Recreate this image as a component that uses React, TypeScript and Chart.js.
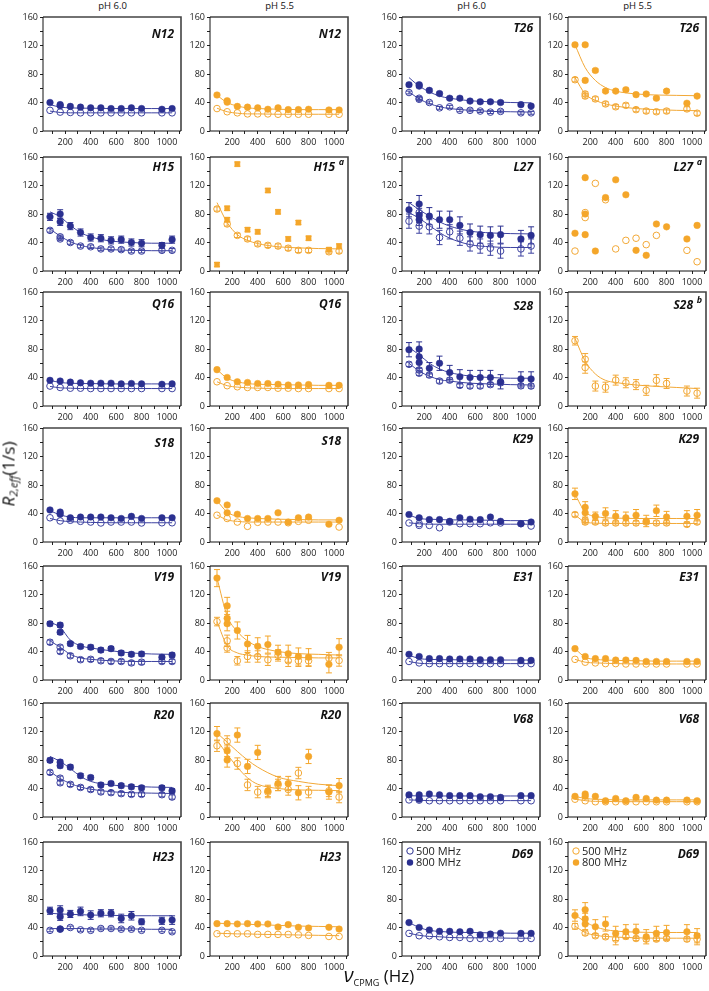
import React, { useEffect, useRef } from 'react';
import { Chart, registerables } from 'chart.js';

Chart.register(...registerables);

// ---------- shared x positions (Hz) ----------
const X11 = [80, 160, 240, 320, 400, 480, 560, 640, 720, 800, 1040];
const X12 = [80, 160, 240, 320, 400, 480, 560, 640, 720, 800, 960, 1040];
const X13 = [80, 160, 160, 240, 320, 400, 480, 560, 640, 720, 800, 960, 1040];
const X14 = [80, 160, 160, 160, 240, 320, 400, 480, 560, 640, 720, 800, 960, 1040];
const X12L = [80, 160, 160, 240, 320, 400, 480, 560, 640, 720, 960, 1040];
const FX = [80, 160, 240, 320, 400, 560, 720, 880, 1040];

const X_TICK_LABELS = [200, 400, 600, 800, 1000];
const Y_TICK_LABELS = [0, 40, 80, 120, 160];
const COLUMN_HEADERS = ['pH 6.0', 'pH 5.5', 'pH 6.0', 'pH 5.5'];
const LEGEND_LABELS = ['500 MHz', '800 MHz'];

// ---------- N12 ----------
const n12A_800 = [40, 37, 35.5, 34.5, 33.5, 32.5, 32.5, 31.5, 31.5, 32.5, 31.5, 30.5, 31.5];
const n12A_500 = [29, 26.5, 26, 25.5, 25.5, 25.5, 25.5, 25.5, 25.5, 25.5, 25.5, 25.5];
const n12A_f800 = [37, 33.5, 32.5, 32, 32, 31.5, 31.5, 31.5, 31.5];
const n12A_f500 = [28, 26, 25.5, 25.5, 25.5, 25.5, 25.5, 25.5, 25.5];
const n12B_800 = [50.5, 42.5, 40.5, 34.5, 33.5, 32.5, 30.5, 32.5, 30, 30, 30.5, 29.5, 29.5];
const n12B_500 = [31.5, 27, 25.5, 24, 24, 24, 23.5, 23.5, 23.5, 23.5, 23.5, 23.5];
const n12B_f800 = [50, 40, 35, 32.5, 31.5, 30.5, 30, 30, 30];
const n12B_f500 = [32, 27, 25, 24, 24, 23.5, 23.5, 23.5, 23.5];

// ---------- H15 ----------
const h15A_800 = [76, 80, 69, 63, 54, 47, 46, 43, 44, 40, 39, 36, 44];
const h15A_800e = [5, 6, 5, 5, 5, 5, 5, 5, 5, 5, 5, 4, 5];
const h15A_500 = [57, 48, 45, 40, 35, 34, 31, 31, 30, 28, 28, 29, 29];
const h15A_f800 = [83, 76, 64, 54, 48, 42, 40, 39, 39];
const h15A_f500 = [59, 49, 41, 36, 33, 30, 29, 28.5, 28.5];
const h15B_800 = [9, 88, 72, 150, 58, 55, 113, 83, 45, 68, 46, 30, 35];
const h15B_500 = [87, 66, 50, 45, 38, 36, 35, 32, 29, 29, 27, 28];
const h15B_f500 = [96, 68, 51, 43, 38.5, 34, 32.5, 31.5, 31];

// ---------- Q16 ----------
const q16A_800 = [36, 35, 33.5, 32.5, 32, 32, 32, 31, 31.5, 31, 30.5, 31];
const q16A_500 = [28, 26, 25, 25, 24.5, 24.5, 24.5, 24.5, 24.5, 24.5, 24.5, 24.5];
const q16A_f800 = [36, 33, 32, 31.5, 31.5, 31, 31, 31, 31];
const q16A_f500 = [27.5, 25.5, 25, 24.5, 24.5, 24.5, 24.5, 24.5, 24.5];
const q16B_800 = [51, 40, 34, 33, 31.5, 31.5, 30.5, 29.5, 29.5, 30, 29, 29];
const q16B_500 = [34, 28.5, 27, 26, 26, 26, 25, 25, 24.5, 24.5, 24.5, 24.5];
const q16B_f800 = [51, 39, 34, 31.5, 30.5, 30, 29.5, 29, 29];
const q16B_f500 = [34, 28.5, 26.5, 25.5, 25, 24.5, 24.5, 24.5, 24.5];

// ---------- S18 ----------
const s18A_800 = [45, 42, 39, 34, 35, 35, 35, 34, 33, 36, 33, 34, 34];
const s18A_500 = [34, 29.5, 30.5, 29, 28, 26.7, 28, 28, 28, 26.7, 27, 27];
const s18A_f800 = [44, 38, 35, 34, 34, 34, 34, 34, 34];
const s18A_f500 = [33, 30, 28.5, 28, 27.5, 27, 27, 27, 27];
const s18B_800 = [58, 52, 41, 39, 33, 33, 33, 41, 28, 34, 35, 25, 30.5];
const s18B_500 = [37.6, 33, 28, 22, 27.6, 28, 28, 27, 29, 30.5, 21];
const s18B_f800 = [58, 42, 36, 34, 33, 32, 31.5, 31, 31];
const s18B_f500 = [38, 31, 29, 28, 28, 28, 28, 28, 28];

// ---------- V19 ----------
const v19A_800 = [79, 77, 67, 51, 47, 46, 42, 44, 38, 36, 36.5, 32, 35];
const v19A_500 = [53, 46, 40, 34, 28.5, 29, 27, 26, 26, 24, 25, 26, 26];
const v19A_f800 = [81, 74, 56, 48, 45, 41, 38, 36.5, 36];
const v19A_f500 = [55, 46, 36, 31, 29, 27, 26, 26, 26];
const v19B_800 = [143, 104, 86.5, 79, 69.5, 50.6, 47.3, 49.7, 38.8, 36.9, 33, 32, 22, 46];
const v19B_800e = [12, 12, 10, 10, 12, 12, 12, 12, 10, 12, 12, 12, 12, 12];
const v19B_500 = [82, 55, 45, 27, 33, 33, 28.4, 34.5, 27, 27, 27, 30.7, 27.4];
const v19B_500e = [6, 8, 6, 6, 8, 8, 8, 8, 8, 8, 8, 8, 8];
const v19B_f800 = [143, 90, 68, 55, 47, 40, 37, 36, 35];
const v19B_f500 = [82, 48, 38, 35, 33, 32, 31.5, 31, 31];

// ---------- R20 ----------
const r20A_800 = [79.5, 77, 72, 70, 58, 55.4, 45, 47, 44, 42.4, 41, 41, 36.6];
const r20A_500 = [62.6, 54.5, 48, 45.8, 41.5, 38.6, 35.2, 34.2, 32.8, 31.8, 31.8, 31.3, 28];
const r20A_f800 = [85, 78, 68, 57, 50, 45, 43, 42, 41.5];
const r20A_f500 = [64, 54, 47, 42, 39, 35.5, 34, 33.5, 33];
const r20B_800 = [117, 93, 80, 115, 71, 90.6, 36.6, 47, 47, 34, 85, 35, 44];
const r20B_800e = [10, 8, 10, 10, 10, 10, 8, 10, 10, 10, 10, 10, 10];
const r20B_500 = [100, 106, 75, 45, 35, 35, 45, 38.6, 61.7, 35, 36.6, 28];
const r20B_f800 = [118, 105, 92, 80, 70, 56, 50, 46, 44];
const r20B_f500 = [108, 88, 70, 55, 46, 40, 38, 37.5, 37];

// ---------- H23 ----------
const h23A_800 = [63.5, 64.5, 55, 38, 59, 62.6, 57.4, 60, 60, 52.7, 56.5, 48, 49.4, 50.4];
const h23A_800e = [5, 6, 5, 2, 5, 6, 6, 5, 5, 6, 6, 4, 5, 6];
const h23A_500 = [36, 37.6, 40, 36.7, 36, 38.6, 38.6, 37.6, 37.6, 36, 36, 34];
const h23A_f800 = [60, 59, 58.5, 58, 57.5, 57, 56.5, 56.5, 56.5];
const h23A_f500 = [38.5, 38.5, 38.5, 38.5, 38, 38, 38, 37.5, 37.5];
const h23B_800 = [45.4, 45.4, 45, 45.4, 45, 45, 40.7, 44, 40.2, 39.3, 40.2, 37.8];
const h23B_500 = [31.2, 31.2, 31.2, 31.2, 30.3, 30.3, 30.3, 30.3, 29.8, 28.9, 27.4, 27.4];
const h23B_f800 = [46, 45.5, 45, 44.5, 44, 43, 42, 41.5, 41];
const h23B_f500 = [32, 31.5, 31, 31, 30.5, 30, 29.5, 29, 28.5];

// ---------- T26 ----------
const t26C_800 = [65, 65, 63, 57, 52.5, 46, 46, 42, 41, 41, 40, 37, 35];
const t26C_500 = [54, 46, 44.5, 40, 32.5, 34, 29, 29, 28, 26.5, 27.5, 25.5, 25.5];
const t26C_f800 = [75, 63, 55, 49, 46, 42.5, 41, 40, 39.5];
const t26C_f500 = [55, 45, 38.5, 34, 31.5, 29, 27.5, 27, 26.5];
const t26D_800 = [121, 121, 71, 85, 56, 56, 58, 51, 52, 46, 56, 39, 49];
const t26D_500 = [72, 52, 49, 45, 38, 34, 36, 30, 28, 27, 28, 31, 25];
const t26D_f800 = [121, 89, 71, 61, 56, 52, 50.5, 50, 49.5];
const t26D_f500 = [75, 52, 43, 38, 35, 31.5, 30, 29, 28.5];

// ---------- L27 ----------
const l27C_800 = [86, 94, 78, 72, 77, 72, 72, 64, 54, 51, 50, 51, 45, 50];
const l27C_800e = [10, 12, 10, 8, 12, 12, 12, 12, 12, 12, 12, 12, 12, 12];
const l27C_500 = [70, 82, 63, 62, 47, 55, 46, 38, 35, 32, 28, 31, 35];
const l27C_f800 = [96, 86, 77, 69, 63, 56, 53.5, 52.5, 52];
const l27C_f500 = [82, 74, 64, 54, 46, 37, 34, 33, 33];
const l27D_800 = [53, 131, 80, 51, 28, 103, 128, 107, 29, 22, 66, 62, 45, 64];
const l27D_500 = [28, 82, 75, 123, 100, 31, 43, 46, 37, 50, 29, 13];

// ---------- S28 ----------
const s28C_800 = [79, 80, 69, 61, 53, 60, 47, 41, 40, 40, 40, 34, 38, 38];
const s28C_800e = [10, 10, 8, 8, 8, 10, 10, 10, 10, 10, 10, 10, 10, 10];
const s28C_500 = [58.5, 50.5, 46, 43.4, 35, 36.3, 29, 28, 28, 30, 32.6, 28.3, 28];
const s28C_f800 = [82, 72, 60, 52, 47, 42, 40, 39, 39];
const s28C_f500 = [60, 49, 42, 37, 35, 32, 31, 30, 29.5];
const s28D_500 = [91.6, 65.6, 54, 28, 26.4, 36.3, 32.6, 30, 22, 36, 31.6, 21, 18];
const s28D_500e = [6, 8, 8, 7, 7, 7, 7, 7, 7, 8, 7, 7, 7];
const s28D_f500 = [95, 63, 45, 36, 33, 29.5, 27.5, 26, 24.5];

// ---------- K29 ----------
const k29C_800 = [38.5, 34, 31.4, 31.4, 29, 34, 32, 31.4, 35, 29, 25.7, 28];
const k29C_500 = [26.7, 25.7, 23.3, 23.3, 20, 28, 25.7, 25.7, 25.7, 27, 26.7, 25.7, 22.4];
const k29C_f800 = [38, 33, 32, 31.5, 31, 31, 30.5, 30, 30];
const k29C_f500 = [27, 25.5, 25, 25, 25, 25, 25, 25, 25];
const k29D_800 = [67.6, 48.6, 41, 36, 40, 36, 34, 37.6, 29.5, 43.8, 35, 36, 37.6];
const k29D_800e = [8, 8, 6, 6, 8, 8, 8, 8, 8, 8, 8, 8, 8];
const k29D_500 = [38.5, 30.5, 28, 28, 26.7, 26.7, 26.7, 26.7, 28, 26.7, 26.7, 24.7, 28];
const k29D_f800 = [67, 42, 36, 34, 33.5, 33, 33, 33, 33];
const k29D_f500 = [38, 28, 26.5, 26, 26, 26, 26, 26, 26];

// ---------- E31 ----------
const e31C_800 = [36, 33, 30, 30, 29.5, 29.5, 29.5, 28.5, 28.5, 28.5, 27.5, 27.5];
const e31C_500 = [26, 24, 23, 23, 23, 23, 23, 23, 23, 23, 23, 23];
const e31C_f800 = [35, 30, 29, 28.5, 28.5, 28, 28, 28, 28];
const e31C_f500 = [26, 23.5, 23, 23, 23, 23, 23, 23, 23];
const e31D_800 = [44, 33, 30, 30, 28, 28, 27.5, 26, 26, 26, 26, 26];
const e31D_500 = [29, 25, 24, 23, 23, 22.5, 22.5, 22.5, 22.5, 22.5, 22.5, 22.5];
const e31D_f800 = [44, 32, 29, 28, 27.5, 27, 26.5, 26.5, 26.5];
const e31D_f500 = [29, 25, 24, 23.5, 23, 22.5, 22.5, 22.5, 22.5];

// ---------- V68 ----------
const v68C_800 = [31, 31, 25, 32.3, 31, 30, 30, 30, 28.5, 28.5, 27.5, 30, 30];
const v68C_500 = [24, 23.7, 22.8, 22.8, 22.8, 22.8, 22.8, 22.8, 22.8, 22.8, 22.8, 22.8];
const v68C_f800 = [30, 29.5, 29.5, 29.5, 29.5, 29.5, 29.5, 29.5, 29.5];
const v68C_f500 = [24, 23.5, 23, 23, 23, 23, 23, 23, 23];
const v68D_800 = [29, 32.3, 29, 29, 22.8, 26, 22.8, 27.5, 26, 23.7, 23.7, 23.7, 22.8];
const v68D_500 = [25, 22.8, 21.4, 21.4, 21.4, 21.4, 21.4, 21.4, 21.4, 21.4, 21.4, 21.4];
const v68D_f800 = [29, 26, 25, 24.5, 24, 24, 24, 24, 24];
const v68D_f500 = [25, 23, 22, 22, 21.5, 21.5, 21.5, 21.5, 21.5];

// ---------- D69 ----------
const d69C_800 = [46.9, 40, 36.5, 34.6, 34.6, 34, 34.6, 29.8, 30.8, 32, 31.7, 31.7];
const d69C_500 = [31.7, 28.4, 28.4, 27, 26, 26, 24.6, 24.6, 24.6, 24.6, 24.6, 24.6];
const d69C_f800 = [47, 40, 36, 34.5, 33.5, 33, 32.5, 32, 32];
const d69C_f500 = [32, 29, 27.5, 27, 26, 25.5, 25.5, 25, 25];
const d69D_800 = [56.8, 64.9, 52, 45, 41, 45, 31.7, 34, 34.6, 27, 31.7, 33, 34, 28.4];
const d69D_800e = [8, 10, 8, 8, 10, 10, 10, 10, 10, 10, 10, 10, 10, 10];
const d69D_500 = [41.7, 32.2, 28.4, 27, 23.7, 27.5, 24.6, 23.7, 23.7, 24.6, 23.7, 23.7];
const d69D_500e = [4, 3, 3, 3, 8, 3, 3, 3, 3, 3, 3, 8];
const d69D_f800 = [58, 48, 41, 37, 35, 33.5, 33, 33, 33];
const d69D_f500 = [42, 33, 29, 27.5, 26.5, 25.5, 25, 25, 25];

// ---------- layout ----------
const BLUE = '#2b3090';
const BLUE_LINE = '#3d42a0';
const ORANGE = '#f4a62a';
const ORANGE_LINE = '#f2a836';
const COL_LEFT = [43, 210, 402, 568];
const ROW_TOP = [17, 157, 292, 428, 566, 703, 842];
const PW = 139;
const PH = 114;
const PAD_L = 38;
const PAD_T = 8;
const PAD_R = 4;
const PAD_B = 20;
const FONT = '"Open Sans", "Noto Sans", sans-serif';

type Series = { x: number[]; y: number[]; e: number | number[] };
type PanelSpec = {
  col: number;
  row: number;
  title: string;
  sup?: string;
  titleDy: number;
  s500?: Series;
  s800?: Series;
  f500?: number[];
  f800?: number[];
  square800?: boolean;
  legend?: boolean;
};

const S = (x: number[], y: number[], e: number | number[] = 0): Series => ({ x, y, e });

const PANELS: PanelSpec[] = [
  { col: 0, row: 0, title: 'N12', titleDy: 18, s800: S(X13, n12A_800), s500: S(X12, n12A_500), f800: n12A_f800, f500: n12A_f500 },
  { col: 1, row: 0, title: 'N12', titleDy: 18, s800: S(X13, n12B_800), s500: S(X12, n12B_500), f800: n12B_f800, f500: n12B_f500 },
  { col: 0, row: 1, title: 'H15', titleDy: 11, s800: S(X13, h15A_800, h15A_800e), s500: S(X13, h15A_500, 2.5), f800: h15A_f800, f500: h15A_f500 },
  { col: 1, row: 1, title: 'H15', sup: 'a', titleDy: 11, s800: S(X13, h15B_800, 3), s500: S(X12, h15B_500, 3), f500: h15B_f500, square800: true },
  { col: 0, row: 2, title: 'Q16', titleDy: 13, s800: S(X12, q16A_800), s500: S(X12, q16A_500), f800: q16A_f800, f500: q16A_f500 },
  { col: 1, row: 2, title: 'Q16', titleDy: 13, s800: S(X12, q16B_800), s500: S(X12, q16B_500), f800: q16B_f800, f500: q16B_f500 },
  { col: 0, row: 3, title: 'S18', titleDy: 16, s800: S(X13, s18A_800), s500: S(X12, s18A_500), f800: s18A_f800, f500: s18A_f500 },
  { col: 1, row: 3, title: 'S18', titleDy: 14, s800: S(X13, s18B_800), s500: S(X11, s18B_500), f800: s18B_f800, f500: s18B_f500 },
  { col: 0, row: 4, title: 'V19', titleDy: 12, s800: S(X13, v19A_800, 3), s500: S(X13, v19A_500, 3), f800: v19A_f800, f500: v19A_f500 },
  { col: 1, row: 4, title: 'V19', titleDy: 12, s800: S(X14, v19B_800, v19B_800e), s500: S(X13, v19B_500, v19B_500e), f800: v19B_f800, f500: v19B_f500 },
  { col: 0, row: 5, title: 'R20', titleDy: 13, s800: S(X13, r20A_800, 3), s500: S(X13, r20A_500, 3), f800: r20A_f800, f500: r20A_f500 },
  { col: 1, row: 5, title: 'R20', titleDy: 13, s800: S(X13, r20B_800, r20B_800e), s500: S(X12, r20B_500, 8), f800: r20B_f800, f500: r20B_f500 },
  { col: 0, row: 6, title: 'H23', titleDy: 16, s800: S(X14, h23A_800, h23A_800e), s500: S(X12, h23A_500, 2), f800: h23A_f800, f500: h23A_f500 },
  { col: 1, row: 6, title: 'H23', titleDy: 16, s800: S(X12, h23B_800), s500: S(X12, h23B_500), f800: h23B_f800, f500: h23B_f500 },
  { col: 2, row: 0, title: 'T26', titleDy: 12, s800: S(X13, t26C_800, 2), s500: S(X13, t26C_500, 2), f800: t26C_f800, f500: t26C_f500 },
  { col: 3, row: 0, title: 'T26', titleDy: 12, s800: S(X13, t26D_800, 2), s500: S(X13, t26D_500, 3), f800: t26D_f800, f500: t26D_f500 },
  { col: 2, row: 1, title: 'L27', titleDy: 11, s800: S(X14, l27C_800, l27C_800e), s500: S(X13, l27C_500, 10), f800: l27C_f800, f500: l27C_f500 },
  { col: 3, row: 1, title: 'L27', sup: 'a', titleDy: 11, s800: S(X14, l27D_800), s500: S(X12L, l27D_500) },
  { col: 2, row: 2, title: 'S28', titleDy: 15, s800: S(X14, s28C_800, s28C_800e), s500: S(X13, s28C_500, 3), f800: s28C_f800, f500: s28C_f500 },
  { col: 3, row: 2, title: 'S28', sup: 'b', titleDy: 14, s500: S(X13, s28D_500, s28D_500e), f500: s28D_f500 },
  { col: 2, row: 3, title: 'K29', titleDy: 12, s800: S(X12, k29C_800), s500: S(X13, k29C_500), f800: k29C_f800, f500: k29C_f500 },
  { col: 3, row: 3, title: 'K29', titleDy: 12, s800: S(X13, k29D_800, k29D_800e), s500: S(X13, k29D_500, 3), f800: k29D_f800, f500: k29D_f500 },
  { col: 2, row: 4, title: 'E31', titleDy: 12, s800: S(X12, e31C_800), s500: S(X12, e31C_500), f800: e31C_f800, f500: e31C_f500 },
  { col: 3, row: 4, title: 'E31', titleDy: 12, s800: S(X12, e31D_800), s500: S(X12, e31D_500), f800: e31D_f800, f500: e31D_f500 },
  { col: 2, row: 5, title: 'V68', titleDy: 17, s800: S(X13, v68C_800), s500: S(X12, v68C_500), f800: v68C_f800, f500: v68C_f500 },
  { col: 3, row: 5, title: 'V68', titleDy: 17, s800: S(X13, v68D_800), s500: S(X12, v68D_500), f800: v68D_f800, f500: v68D_f500 },
  { col: 2, row: 6, title: 'D69', titleDy: 13, legend: true, s800: S(X12, d69C_800), s500: S(X12, d69C_500), f800: d69C_f800, f500: d69C_f500 },
  { col: 3, row: 6, title: 'D69', titleDy: 13, legend: true, s800: S(X14, d69D_800, d69D_800e), s500: S(X12, d69D_500, d69D_500e), f800: d69D_f800, f500: d69D_f500 },
];

const errorBarPlugin = {
  id: 'errbars',
  beforeDatasetsDraw(chart: any) {
    const ctx = chart.ctx;
    const xs = chart.scales.x;
    const ys = chart.scales.y;
    chart.data.datasets.forEach((ds: any) => {
      if (ds.errors === undefined) return;
      ctx.save();
      ctx.strokeStyle = ds.errColor;
      ctx.lineWidth = 1;
      ds.data.forEach((p: any, i: number) => {
        const e = Array.isArray(ds.errors) ? ds.errors[i] : ds.errors;
        if (!e) return;
        const px = xs.getPixelForValue(p.x);
        const y1 = ys.getPixelForValue(p.y + e);
        const y2 = ys.getPixelForValue(p.y - e);
        ctx.beginPath();
        ctx.moveTo(px, y1);
        ctx.lineTo(px, y2);
        ctx.moveTo(px - 3, y1);
        ctx.lineTo(px + 3, y1);
        ctx.moveTo(px - 3, y2);
        ctx.lineTo(px + 3, y2);
        ctx.stroke();
      });
      ctx.restore();
    });
  },
};

function makeDecorPlugin(spec: PanelSpec, color: string) {
  return {
    id: 'decor',
    afterDraw(chart: any) {
      const ctx = chart.ctx;
      const a = chart.chartArea;
      ctx.save();
      // frame
      ctx.strokeStyle = '#444';
      ctx.lineWidth = 1.6;
      ctx.beginPath();
      ctx.moveTo(a.left, a.top);
      ctx.lineTo(a.right, a.top);
      ctx.lineTo(a.right, a.bottom);
      ctx.stroke();
      ctx.strokeStyle = '#111';
      ctx.lineWidth = 1;
      ctx.beginPath();
      ctx.moveTo(a.left, a.top);
      ctx.lineTo(a.left, a.bottom);
      ctx.lineTo(a.right, a.bottom);
      ctx.stroke();
      // title
      ctx.fillStyle = '#111';
      ctx.textBaseline = 'middle';
      ctx.textAlign = 'right';
      const ty = a.top + spec.titleDy;
      let rx = a.right - 7;
      if (spec.sup) {
        ctx.font = `italic bold 9px ${FONT}`;
        ctx.fillText(spec.sup, a.right - 4, ty - 6);
        rx = a.right - 13;
      }
      ctx.font = `italic bold 12px ${FONT}`;
      ctx.fillText(spec.title, rx, ty);
      // legend
      if (spec.legend) {
        ctx.textAlign = 'left';
        ctx.font = `11px ${FONT}`;
        LEGEND_LABELS.forEach((lab, i) => {
          const cy = a.top + 9 + i * 11.5;
          const cx = a.left + 8;
          ctx.beginPath();
          ctx.arc(cx, cy, 3.2, 0, Math.PI * 2);
          if (i === 0) {
            ctx.strokeStyle = color;
            ctx.lineWidth = 1;
            ctx.stroke();
          } else {
            ctx.fillStyle = color;
            ctx.fill();
          }
          ctx.fillStyle = '#222';
          ctx.fillText(lab, cx + 6, cy + 0.5);
        });
      }
      ctx.restore();
    },
  };
}

function Panel({ spec }: { spec: PanelSpec }) {
  const ref = useRef<HTMLCanvasElement>(null);
  const isBlue = spec.col === 0 || spec.col === 2;
  const color = isBlue ? BLUE : ORANGE;
  const lineColor = isBlue ? BLUE_LINE : ORANGE_LINE;
  const cw = PAD_L + PW + PAD_R;
  const ch = PAD_T + PH + PAD_B;

  useEffect(() => {
    if (!ref.current) return;
    const pts = (s: Series) => s.x.map((x, i) => ({ x, y: s.y[i] }));
    const fit = (f: number[]) => FX.map((x, i) => ({ x, y: f[i] }));
    const datasets: any[] = [];
    if (spec.s800) {
      datasets.push({
        data: pts(spec.s800),
        errors: spec.s800.e,
        errColor: color,
        showLine: false,
        pointStyle: spec.square800 ? 'rect' : 'circle',
        pointRadius: spec.square800 ? 3.6 : 3.3,
        pointBackgroundColor: color,
        pointBorderColor: color,
        pointBorderWidth: 0.5,
      });
    }
    if (spec.s500) {
      datasets.push({
        data: pts(spec.s500),
        errors: spec.s500.e,
        errColor: lineColor,
        showLine: false,
        pointStyle: 'circle',
        pointRadius: 3.3,
        pointBackgroundColor: 'rgba(255,255,255,0)',
        pointBorderColor: lineColor,
        pointBorderWidth: 1,
      });
    }
    [spec.f800, spec.f500].forEach((f) => {
      if (!f) return;
      datasets.push({
        data: fit(f),
        showLine: true,
        pointRadius: 0,
        borderColor: lineColor,
        borderWidth: 1,
        cubicInterpolationMode: 'monotone',
        fill: false,
      });
    });

    const tickFont = { family: FONT, size: 9 };
    const chart = new Chart(ref.current, {
      type: 'scatter',
      data: { datasets },
      options: {
        animation: false,
        responsive: false,
        events: [],
        layout: { padding: { left: 0, top: PAD_T, right: PAD_R, bottom: 0 } },
        plugins: { legend: { display: false }, tooltip: { enabled: false } },
        scales: {
          x: {
            type: 'linear',
            min: 25,
            max: 1110,
            afterFit: (s: any) => { s.height = PAD_B; },
            border: { display: false },
            grid: { display: true, drawOnChartArea: false, drawTicks: true, tickLength: 3, color: '#222' },
            ticks: {
              stepSize: 100,
              includeBounds: false,
              autoSkip: false,
              maxRotation: 0,
              padding: 3,
              color: '#1a1a1a',
              font: tickFont,
              callback: (v: any) => (X_TICK_LABELS.includes(Number(v)) ? String(v) : ''),
            },
          },
          y: {
            type: 'linear',
            min: 0,
            max: 160,
            afterFit: (s: any) => { s.width = PAD_L; },
            border: { display: false },
            grid: { display: true, drawOnChartArea: false, drawTicks: true, tickLength: 3, color: '#222' },
            ticks: {
              stepSize: 20,
              autoSkip: false,
              padding: 2,
              color: '#1a1a1a',
              font: tickFont,
              callback: (v: any) => (Y_TICK_LABELS.includes(Number(v)) ? String(v) : ''),
            },
          },
        },
      } as any,
      plugins: [errorBarPlugin, makeDecorPlugin(spec, color)],
    });
    return () => chart.destroy();
  }, []);

  return (
    <canvas
      ref={ref}
      width={cw}
      height={ch}
      style={{
        position: 'absolute',
        left: COL_LEFT[spec.col] - PAD_L,
        top: ROW_TOP[spec.row] - PAD_T,
        width: cw,
        height: ch,
      }}
    />
  );
}

export default function App() {
  return (
    <div
      style={{
        position: 'absolute',
        left: 0,
        top: 0,
        width: 709,
        height: 991,
        overflow: 'hidden',
        background: '#fff',
        fontFamily: FONT,
        color: '#111',
      }}
    >
      {COLUMN_HEADERS.map((h, i) => (
        <div
          key={i}
          style={{
            position: 'absolute',
            left: COL_LEFT[i] + PW / 2 - 50,
            width: 100,
            top: 0,
            textAlign: 'center',
            fontSize: 9.5,
            lineHeight: '12px',
          }}
        >
          {h}
        </div>
      ))}
      {PANELS.map((p, i) => (
        <Panel key={i} spec={p} />
      ))}
      <div
        style={{
          position: 'absolute',
          left: 11,
          top: 474,
          transform: 'translate(-50%, -50%) rotate(-90deg)',
          whiteSpace: 'nowrap',
          fontSize: 17,
          lineHeight: '20px',
        }}
      >
        <i>R</i>
        <sub style={{ fontSize: 11, fontStyle: 'italic', verticalAlign: '-3px' }}>2,eff</sub>
        (1/s)
      </div>
      <div
        style={{
          position: 'absolute',
          left: 379,
          top: 979,
          transform: 'translate(-50%, -50%)',
          whiteSpace: 'nowrap',
          fontSize: 17,
          lineHeight: '20px',
        }}
      >
        <i style={{ fontSize: 20 }}>ν</i>
        <sub style={{ fontSize: 9, verticalAlign: '-4px' }}>CPMG</sub> (Hz)
      </div>
    </div>
  );
}
